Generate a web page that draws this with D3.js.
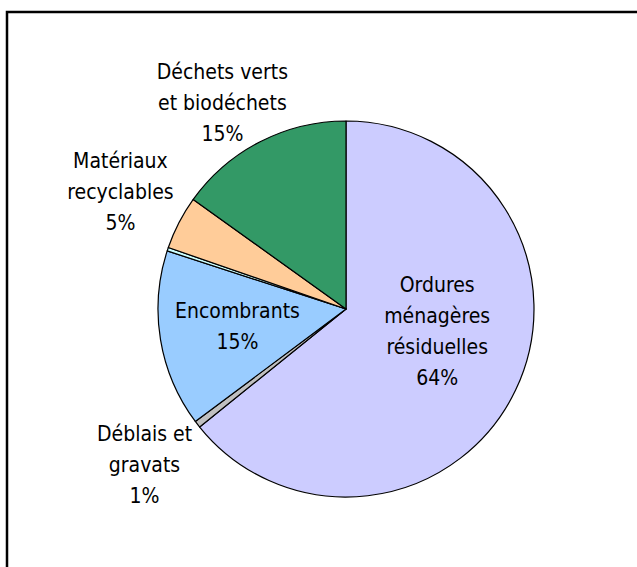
<!DOCTYPE html>
<html>
<head>
<meta charset="utf-8">
<script src="https://cdn.jsdelivr.net/npm/d3@7"></script>
<style>
  html, body { margin: 0; padding: 0; background: #fff; overflow: hidden; }
  .lbl { font-family: "DejaVu Sans Condensed", "DejaVu Sans", sans-serif; font-size: 21px; fill: #000; }
</style>
</head>
<body>
<div id="graphicContainer"></div>
<script>
// categories, clockwise from 12 o'clock
var categories = ["Ordures ménagères résiduelles", "Déblais et gravats", "Encombrants", "Autres", "Matériaux recyclables", "Déchets verts et biodéchets"]
var shares = [64.2, 0.6, 15.2, 0.3, 4.6, 15.1]
var pctLabels = ["64%", "1%", "15%", "", "5%", "15%"]
var labelLines = [["Ordures", "ménagères", "résiduelles"], ["Déblais et", "gravats"], ["Encombrants"], [], ["Matériaux", "recyclables"], ["Déchets verts", "et biodéchets"]]

var colours = ["#CCCCFF", "#C0C0C0", "#99CCFF", "#CCFFFF", "#FFCC99", "#339966"]

var width = 637, height = 567
var cx = 346, cy = 309, radius = 188
// label distance from centre (and angle tweak, in degrees) per slice
var labelRadius = [94, 255, 110, 0, 254, 240]
var labelAngle = [104, null, null, null, null, 329]
var lineH = 31

var svg = d3.select("#graphicContainer").append("svg")
    .attr("width", width)
    .attr("height", height)

// chart frame
svg.append("rect")
    .attr("x", 7).attr("y", 12)
    .attr("width", width + 10).attr("height", height + 10)
    .attr("fill", "white")
    .attr("stroke", "black")
    .attr("stroke-width", 2.5)

var data = categories.map((c, i) => ({name: c, value: shares[i], i: i}))

var pie = d3.pie().sort(null).value(d => d.value).startAngle(0).endAngle(2 * Math.PI)
var arc = d3.arc().innerRadius(0).outerRadius(radius)

var g = svg.append("g").attr("transform", "translate(" + cx + "," + cy + ")")

var arcs = pie(data)

g.selectAll("path")
    .data(arcs)
    .enter()
    .append("path")
    .attr("d", arc)
    .attr("fill", d => colours[d.data.i])
    .attr("stroke", "black")
    .attr("stroke-width", 1.2)
    .attr("stroke-linejoin", "round")

arcs.forEach(function(d) {
    var i = d.data.i
    var lines = labelLines[i].slice()
    if (pctLabels[i] == "") return
    lines.push(pctLabels[i])
    var a = labelAngle[i] != null ? labelAngle[i] * Math.PI / 180 : (d.startAngle + d.endAngle) / 2
    var x = Math.sin(a) * labelRadius[i]
    var y = -Math.cos(a) * labelRadius[i]
    var n = lines.length
    var t = g.append("text")
        .attr("class", "lbl")
        .attr("text-anchor", "middle")
    lines.forEach(function(l, k) {
        t.append("tspan")
            .attr("x", x)
            .attr("y", y + 7 + (k - (n - 1) / 2) * lineH)
            .text(l)
    })
})
</script>
</body>
</html>
